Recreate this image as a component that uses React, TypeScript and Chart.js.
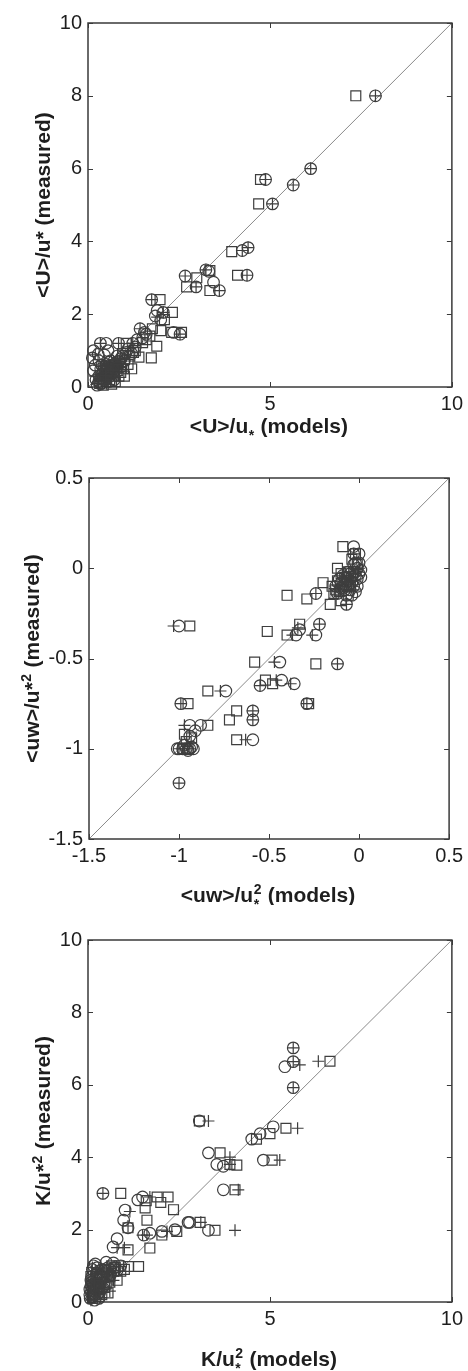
import React, { useEffect, useRef } from 'react';
import { Chart, registerables } from 'chart.js';
Chart.register(...registerables);

type Pt = [number, number];
type Seg = { t?: string; k?: 'n' | 'sup' | 'sub' | 'stack'; sup?: string; sub?: string };

// ---------- Panel 1: <U>/u* ----------
const uCircles: Pt[] = [
  [7.9, 8.0], [6.12, 6.0], [5.64, 5.55], [4.88, 5.7], [5.07, 5.03], [4.24, 3.75], [4.4, 3.83], [4.37, 3.07],
  [2.67, 3.05], [3.24, 3.22], [3.32, 3.18], [2.97, 2.75], [3.61, 2.65], [3.45, 2.88], [1.75, 2.4], [2.07, 2.05],
  [1.85, 1.95], [1.9, 2.1], [2.0, 1.85], [2.53, 1.45], [2.35, 1.5], [1.43, 1.6], [1.55, 1.5], [0.34, 1.2],
  [0.5, 1.2], [0.84, 1.2], [1.23, 1.2], [0.15, 1.0], [0.12, 0.8], [0.2, 0.6], [1.1, 1.05], [0.35, 0.5],
  [0.4, 0.35], [0.5, 0.62], [0.62, 0.72], [0.7, 0.5], [0.48, 0.28], [0.3, 0.15], [0.6, 0.42], [0.8, 0.85],
  [1.0, 0.72], [0.45, 0.88], [0.25, 0.05], [0.72, 0.2], [0.9, 0.55], [1.2, 0.92], [0.55, 1.0], [1.35, 1.3],
  [0.28, 0.9], [0.3, 0.3], [0.42, 0.45], [0.55, 0.55], [0.65, 0.6], [0.75, 0.65], [0.85, 0.7], [0.38, 0.6],
  [0.5, 0.42], [0.6, 0.3], [0.68, 0.38], [0.8, 0.55], [0.95, 0.85], [0.22, 0.2], [0.35, 0.08], [0.45, 0.18],
  [0.58, 0.15], [0.3, 0.72], [0.15, 0.45], [1.05, 0.95], [0.9, 0.78], [1.3, 1.1], [1.5, 1.35], [1.6, 1.45],
  [0.52, 0.35], [0.62, 0.52], [0.72, 0.6], [0.4, 0.22], [0.58, 0.68],
];
const uSquares: Pt[] = [
  [7.36, 8.0], [4.74, 5.7], [4.69, 5.03], [3.95, 3.72], [4.11, 3.07], [2.71, 2.75], [2.99, 3.0], [3.35, 2.65],
  [3.35, 3.2], [1.98, 2.4], [2.32, 2.05], [2.1, 1.85], [2.3, 1.5], [2.57, 1.5], [1.77, 1.6], [2.0, 1.55],
  [1.89, 1.12], [1.74, 0.8], [1.3, 1.0], [1.1, 0.62], [0.9, 0.4], [0.7, 0.3], [1.2, 0.5], [0.5, 0.15],
  [0.65, 0.08], [0.42, 0.05], [1.0, 0.3], [0.8, 0.65], [1.5, 1.22], [0.6, 0.5], [0.32, 0.1], [1.4, 0.82],
  [0.95, 0.92], [0.55, 0.35], [0.75, 0.15], [1.05, 1.2], [0.45, 0.3], [0.55, 0.45], [0.68, 0.55], [0.8, 0.45],
  [0.9, 0.62], [1.0, 0.75], [0.6, 0.2], [0.72, 0.42], [0.85, 0.3], [1.15, 0.85], [1.25, 0.95], [0.5, 0.55],
  [0.38, 0.2], [0.98, 0.5], [1.6, 1.3], [1.7, 1.4], [0.62, 0.38], [0.78, 0.52],
];
const uPluses: Pt[] = [
  [7.9, 8.0], [6.12, 6.0], [5.64, 5.55], [4.88, 5.7], [5.07, 5.03], [4.24, 3.75], [4.4, 3.83], [4.37, 3.07],
  [2.67, 3.05], [3.24, 3.22], [2.97, 2.75], [3.61, 2.65], [1.75, 2.4], [2.07, 2.05], [1.9, 1.92], [2.53, 1.45],
  [1.43, 1.6], [0.34, 1.2], [0.84, 1.2], [1.23, 1.2], [0.2, 0.9], [0.4, 0.5], [0.55, 0.4], [0.6, 0.6],
  [0.7, 0.72], [0.3, 0.2], [0.5, 0.1], [0.8, 0.32], [1.0, 0.8], [0.2, 0.3], [0.45, 0.7], [0.65, 0.25],
  [0.35, 0.35], [0.5, 0.5], [0.62, 0.5], [0.75, 0.55], [0.85, 0.62], [0.42, 0.25], [0.55, 0.2], [0.68, 0.45],
  [0.9, 0.7], [0.3, 0.6], [0.25, 0.1], [1.1, 1.0], [0.48, 0.32], [0.58, 0.58],
];
const uXTicks = [0, 5, 10];
const uYTicks = [0, 2, 4, 6, 8, 10];
const uXTitle: Seg[] = [{ t: '<U>/u' }, { k: 'sub', t: '*' }, { t: ' (models)' }];
const uYTitle: Seg[] = [{ t: '<U>/u* (measured)' }];

// ---------- Panel 2: <uw>/u*^2 ----------
const uwCircles: Pt[] = [
  [-1.0, -1.19], [-1.0, -1.0], [-0.98, -1.0], [-0.96, -1.0], [-0.94, -1.0], [-0.92, -1.0], [-0.94, -0.93],
  [-0.94, -0.87], [-0.91, -0.9], [-0.88, -0.87], [-0.99, -0.75], [-0.74, -0.68], [-0.59, -0.79], [-0.59, -0.84],
  [-0.59, -0.95], [-0.44, -0.52], [-0.43, -0.62], [-0.55, -0.65], [-0.36, -0.64], [-0.29, -0.75], [-0.12, -0.53],
  [-0.35, -0.37], [-0.33, -0.34], [-0.22, -0.31], [-0.24, -0.37], [-1.0, -0.32], [-0.24, -0.14], [-0.07, -0.2],
  [-0.03, 0.12], [-0.03, 0.08], [0.0, 0.08], [-0.01, 0.0], [-0.02, -0.02], [-0.04, -0.05], [-0.06, -0.07],
  [-0.08, -0.09], [0.0, -0.03], [-0.01, -0.06], [-0.03, -0.1], [-0.05, -0.12], [-0.1, -0.11], [-0.12, -0.14],
  [0.01, -0.01], [-0.02, 0.03], [-0.06, -0.02], [-0.09, -0.04], [-0.04, -0.15], [-0.02, -0.04], [-0.05, -0.03],
  [-0.07, -0.05], [-0.08, -0.12], [-0.1, -0.08], [-0.04, -0.08], [-0.01, -0.1], [0.01, -0.05], [-0.03, 0.02],
  [-0.06, -0.1], [-0.11, -0.06], [-0.13, -0.1], [0.0, 0.03], [-0.02, -0.13], [-0.07, -0.15], [-0.97, -0.98],
  [-0.95, -1.01], [-0.93, -0.99], [-1.01, -1.0],
];
const uwSquares: Pt[] = [
  [-0.98, -1.0], [-0.95, -1.0], [-0.97, -0.92], [-0.84, -0.87], [-0.95, -0.75], [-0.84, -0.68], [-0.68, -0.79],
  [-0.72, -0.84], [-0.68, -0.95], [-0.58, -0.52], [-0.52, -0.62], [-0.48, -0.64], [-0.28, -0.75], [-0.24, -0.53],
  [-0.51, -0.35], [-0.4, -0.37], [-0.33, -0.31], [-0.94, -0.32], [-0.4, -0.15], [-0.29, -0.17], [-0.2, -0.08],
  [-0.16, -0.2], [-0.09, 0.12], [-0.13, -0.12], [-0.12, -0.07], [-0.08, -0.05], [-0.1, -0.18], [-0.06, -0.02],
  [-0.04, 0.05], [-0.02, 0.08], [-0.15, -0.1], [-0.07, -0.07], [-0.11, -0.13], [-0.05, -0.1], [-0.03, -0.02],
  [-0.14, -0.14], [-0.1, -0.03], [-0.01, 0.02], [-0.06, -0.15], [-0.12, 0.0], [-0.09, -0.1], [-0.96, -0.96],
  [-0.93, -0.94],
];
const uwPluses: Pt[] = [
  [-1.0, -1.19], [-1.0, -1.0], [-0.97, -0.87], [-0.99, -0.75], [-0.77, -0.68], [-0.59, -0.79], [-0.59, -0.84],
  [-0.63, -0.95], [-0.47, -0.52], [-0.46, -0.62], [-0.55, -0.65], [-0.38, -0.64], [-0.29, -0.75], [-0.12, -0.53],
  [-0.37, -0.37], [-0.34, -0.33], [-0.22, -0.31], [-0.26, -0.37], [-1.03, -0.32], [-0.24, -0.14], [-0.07, -0.2],
  [-0.03, 0.08], [-0.01, -0.02], [-0.05, -0.06], [-0.08, -0.1], [-0.03, -0.12], [-0.04, -0.03], [-0.06, -0.08],
  [-0.09, -0.06], [-0.11, -0.1], [-0.02, -0.07], [0.0, 0.0], [-0.07, -0.12], [-0.13, -0.12], [-0.97, -1.0],
  [-0.94, -1.0],
];
const uwTicks = [-1.5, -1, -0.5, 0, 0.5];
const uwXTitle: Seg[] = [{ t: '<uw>/u' }, { k: 'stack', sup: '2', sub: '*' }, { t: ' (models)' }];
const uwYTitle: Seg[] = [{ t: '<uw>/u*' }, { k: 'sup', t: '2' }, { t: ' (measured)' }];

// ---------- Panel 3: K/u*^2 ----------
const kCircles: Pt[] = [
  [5.64, 7.02], [5.64, 6.64], [5.41, 6.5], [5.64, 5.92], [3.06, 5.0], [5.09, 4.84], [4.73, 4.65], [4.5, 4.5],
  [4.82, 3.92], [3.31, 4.12], [3.54, 3.8], [3.72, 3.75], [3.72, 3.1], [2.79, 2.2], [3.31, 1.98], [2.03, 1.95],
  [1.53, 1.85], [0.41, 3.0], [1.37, 2.82], [1.5, 2.9], [1.02, 2.54], [0.98, 2.26], [1.1, 2.05], [0.8, 1.75],
  [0.69, 1.52], [2.39, 2.0], [2.75, 2.2], [1.7, 1.9], [0.5, 1.1], [0.7, 1.08], [0.9, 1.0], [0.2, 1.05],
  [0.25, 0.8], [0.3, 0.6], [0.15, 0.5], [0.1, 0.3], [0.2, 0.2], [0.4, 0.4], [0.35, 0.7], [0.5, 0.85],
  [0.6, 0.9], [0.1, 0.7], [0.3, 0.1], [0.45, 0.55], [0.12, 0.9], [0.18, 0.62], [0.08, 0.45], [0.22, 0.35],
  [0.28, 0.5], [0.12, 0.15], [0.32, 0.25], [0.38, 0.9], [0.15, 1.0], [0.25, 0.95], [0.42, 0.7], [0.55, 0.95],
  [0.08, 0.6], [0.18, 0.05], [0.05, 0.2], [0.62, 0.75], [0.72, 0.95], [0.8, 0.88], [0.06, 0.1], [0.14, 0.25],
  [0.2, 0.45], [0.26, 0.22], [0.1, 0.55], [0.22, 0.75], [0.05, 0.35], [0.3, 0.4],
];
const kSquares: Pt[] = [
  [6.65, 6.65], [5.44, 4.8], [5.0, 4.65], [4.63, 4.5], [5.06, 3.92], [3.63, 4.12], [3.9, 3.8], [4.09, 3.78],
  [4.04, 3.1], [3.08, 2.2], [3.49, 1.98], [2.44, 1.95], [2.03, 1.85], [3.06, 5.0], [0.9, 3.0], [1.6, 2.8],
  [1.9, 2.9], [2.2, 2.9], [2.0, 2.75], [2.35, 2.55], [1.62, 2.26], [1.1, 2.05], [1.1, 1.44], [1.7, 1.49],
  [1.39, 0.98], [1.11, 0.98], [1.57, 2.6], [0.75, 0.95], [0.6, 0.7], [0.8, 0.6], [0.45, 0.4], [0.3, 0.15],
  [0.65, 1.0], [0.55, 0.25], [0.4, 0.75], [0.9, 0.85], [0.15, 0.3], [0.2, 0.5], [0.28, 0.35], [0.35, 0.55],
  [0.5, 0.5], [0.25, 0.8], [0.45, 0.9], [0.7, 0.85], [0.6, 0.55], [0.12, 0.1], [0.38, 0.2], [0.55, 0.8],
  [0.85, 1.0], [1.0, 0.9], [0.22, 0.65], [0.1, 0.45], [0.18, 0.2], [0.08, 0.7], [0.32, 0.68],
];
const kPluses: Pt[] = [
  [5.64, 7.02], [5.82, 6.55], [5.64, 6.64], [6.33, 6.65], [5.64, 5.92], [3.31, 5.0], [5.76, 4.8], [5.27, 3.92],
  [3.9, 4.0], [3.9, 3.8], [4.13, 3.1], [3.1, 2.2], [4.04, 1.98], [2.17, 1.95], [1.62, 1.85], [0.41, 3.0],
  [1.7, 2.9], [1.15, 2.5], [1.1, 2.1], [1.0, 1.5], [0.8, 1.5], [0.4, 0.8], [0.3, 0.5], [0.2, 0.3],
  [0.5, 0.6], [0.15, 0.15], [0.6, 0.3], [0.35, 1.0], [1.5, 1.85], [0.1, 0.4], [0.25, 0.65], [0.3, 0.3],
  [0.4, 0.55], [0.2, 0.85], [0.5, 0.75], [0.08, 0.05], [0.35, 0.12], [0.45, 0.35], [0.15, 0.6], [0.6, 0.85],
  [0.7, 0.6], [0.12, 0.95], [0.06, 0.25], [0.18, 0.5],
];
const kXTicks = [0, 5, 10];
const kYTicks = [0, 2, 4, 6, 8, 10];
const kXTitle: Seg[] = [{ t: 'K/u' }, { k: 'stack', sup: '2', sub: '*' }, { t: ' (models)' }];
const kYTitle: Seg[] = [{ t: 'K/u*' }, { k: 'sup', t: '2' }, { t: ' (measured)' }];

const FONT = '"Liberation Sans", Arial, Helvetica, sans-serif';
const MAIN_FONT = `bold 21px ${FONT}`;
const SMALL_FONT = `bold 14px ${FONT}`;
const MARK = '#3e3e3e';
const TEXT = '#1e1e1e';

function segWidth(ctx: CanvasRenderingContext2D, s: Seg): number {
  const k = s.k || 'n';
  if (k === 'n') { ctx.font = MAIN_FONT; return ctx.measureText(s.t || '').width; }
  ctx.font = SMALL_FONT;
  if (k === 'stack') return Math.max(ctx.measureText(s.sup || '').width, ctx.measureText(s.sub || '').width) + 1;
  return ctx.measureText(s.t || '').width + 1;
}

function drawRich(ctx: CanvasRenderingContext2D, segs: Seg[], cx: number, cy: number, rot: number) {
  ctx.save();
  ctx.translate(cx, cy);
  ctx.rotate(rot);
  ctx.fillStyle = TEXT;
  ctx.textBaseline = 'alphabetic';
  ctx.textAlign = 'left';
  const total = segs.reduce((a, s) => a + segWidth(ctx, s), 0);
  let x = -total / 2;
  const base = 7.5;
  for (const s of segs) {
    const w = segWidth(ctx, s);
    const k = s.k || 'n';
    if (k === 'n') { ctx.font = MAIN_FONT; ctx.fillText(s.t || '', x, base); }
    else if (k === 'sup') { ctx.font = SMALL_FONT; ctx.fillText(s.t || '', x + 0.5, base - 8); }
    else if (k === 'sub') { ctx.font = SMALL_FONT; ctx.fillText(s.t || '', x + 0.5, base + 7); }
    else {
      ctx.font = SMALL_FONT;
      ctx.fillText(s.sup || '', x + 0.5, base - 8);
      ctx.fillText(s.sub || '', x + 0.5, base + 7);
    }
    x += w;
  }
  ctx.restore();
}

interface PanelProps {
  top: number;
  height: number;
  area: { left: number; right: number; top: number; bottom: number };
  range: [number, number];
  xTicks: number[];
  yTicks: number[];
  circles: Pt[];
  squares: Pt[];
  pluses: Pt[];
  xTitle: Seg[];
  yTitle: Seg[];
  xTitleY: number;
  yTitleX: number;
}

function Panel(p: PanelProps) {
  const ref = useRef<HTMLCanvasElement | null>(null);
  useEffect(() => {
    if (!ref.current) return;
    const toXY = (a: Pt[]) => a.map(([x, y]) => ({ x, y }));
    const markerBase = {
      borderColor: MARK,
      backgroundColor: 'rgba(0,0,0,0)',
      pointBorderWidth: 1.2,
      borderWidth: 1.2,
      showLine: false,
      clip: 10,
    };
    const frame = {
      id: 'frameAndTitles',
      afterDatasetsDraw(chart: any) {
        const { ctx, chartArea: a, scales } = chart;
        ctx.save();
        ctx.strokeStyle = '#3a3a3a';
        ctx.lineWidth = 1.5;
        ctx.strokeRect(a.left, a.top, a.right - a.left, a.bottom - a.top);
        ctx.lineWidth = 1;
        const L = 5;
        ctx.beginPath();
        scales.x.ticks.forEach((t: any) => {
          const px = Math.round(scales.x.getPixelForValue(t.value)) + 0.5;
          ctx.moveTo(px, a.bottom); ctx.lineTo(px, a.bottom - L);
          ctx.moveTo(px, a.top); ctx.lineTo(px, a.top + L);
        });
        scales.y.ticks.forEach((t: any) => {
          const py = Math.round(scales.y.getPixelForValue(t.value)) + 0.5;
          ctx.moveTo(a.left, py); ctx.lineTo(a.left + L, py);
          ctx.moveTo(a.right, py); ctx.lineTo(a.right - L, py);
        });
        ctx.stroke();
        ctx.restore();
        drawRich(ctx, p.xTitle, (a.left + a.right) / 2 - 1, p.xTitleY, 0);
        drawRich(ctx, p.yTitle, p.yTitleX, (a.top + a.bottom) / 2, -Math.PI / 2);
      },
    };
    const chart = new Chart(ref.current, {
      type: 'scatter',
      data: {
        datasets: [
          { ...markerBase, data: toXY(p.pluses), pointStyle: 'cross', pointRadius: 6 } as any,
          { ...markerBase, data: toXY(p.squares), pointStyle: 'rect', pointRadius: 7 } as any,
          { ...markerBase, data: toXY(p.circles), pointStyle: 'circle', pointRadius: 5.8 } as any,
          {
            type: 'line',
            data: [{ x: p.range[0], y: p.range[0] }, { x: p.range[1], y: p.range[1] }],
            borderColor: '#8a8a8a',
            borderWidth: 1,
            pointRadius: 0,
            showLine: true,
            fill: false,
          } as any,
        ],
      },
      options: {
        responsive: false,
        animation: false,
        devicePixelRatio: 1,
        layout: { padding: { left: 0, right: 468 - p.area.right, top: p.area.top, bottom: 0 } },
        plugins: { legend: { display: false }, tooltip: { enabled: false } },
        scales: {
          x: {
            type: 'linear',
            min: p.range[0],
            max: p.range[1],
            afterBuildTicks: (s: any) => { s.ticks = p.xTicks.map((v) => ({ value: v })); },
            afterFit: (s: any) => { s.height = p.height - p.area.bottom; },
            grid: { display: false, drawTicks: false },
            border: { display: false },
            ticks: {
              color: TEXT, font: { family: FONT, size: 20 }, padding: 5, maxRotation: 0, autoSkip: false,
              callback: (v: any) => String(v),
            },
          },
          y: {
            type: 'linear',
            min: p.range[0],
            max: p.range[1],
            afterBuildTicks: (s: any) => { s.ticks = p.yTicks.map((v) => ({ value: v })); },
            afterFit: (s: any) => { s.width = p.area.left; },
            grid: { display: false, drawTicks: false },
            border: { display: false },
            ticks: {
              color: TEXT, font: { family: FONT, size: 20 }, padding: 6, autoSkip: false,
              callback: (v: any) => String(v),
            },
          },
        },
      } as any,
      plugins: [frame],
    });
    return () => chart.destroy();
  }, []);
  return (
    <div style={{ position: 'absolute', left: 0, top: p.top, width: 468, height: p.height }}>
      <canvas ref={ref} width={468} height={p.height} style={{ width: 468, height: p.height, display: 'block' }} />
    </div>
  );
}

export default function App() {
  return (
    <div style={{ position: 'absolute', left: 0, top: 0, width: 468, height: 1371, background: '#ffffff', overflow: 'hidden' }}>
      <Panel
        top={0}
        height={445}
        area={{ left: 88, right: 452, top: 23, bottom: 387 }}
        range={[0, 10]}
        xTicks={uXTicks}
        yTicks={uYTicks}
        circles={uCircles}
        squares={uSquares}
        pluses={uPluses}
        xTitle={uXTitle}
        yTitle={uYTitle}
        xTitleY={425}
        yTitleX={42}
      />
      <Panel
        top={445}
        height={460}
        area={{ left: 89, right: 452, top: 33, bottom: 394 }}
        range={[-1.5, 0.5]}
        xTicks={uwTicks}
        yTicks={uwTicks}
        circles={uwCircles}
        squares={uwSquares}
        pluses={uwPluses}
        xTitle={uwXTitle}
        yTitle={uwYTitle}
        xTitleY={449}
        yTitleX={31}
      />
      <Panel
        top={905}
        height={466}
        area={{ left: 88, right: 452, top: 35, bottom: 397 }}
        range={[0, 10]}
        xTicks={kXTicks}
        yTicks={kYTicks}
        circles={kCircles}
        squares={kSquares}
        pluses={kPluses}
        xTitle={kXTitle}
        yTitle={kYTitle}
        xTitleY={453}
        yTitleX={42}
      />
    </div>
  );
}
